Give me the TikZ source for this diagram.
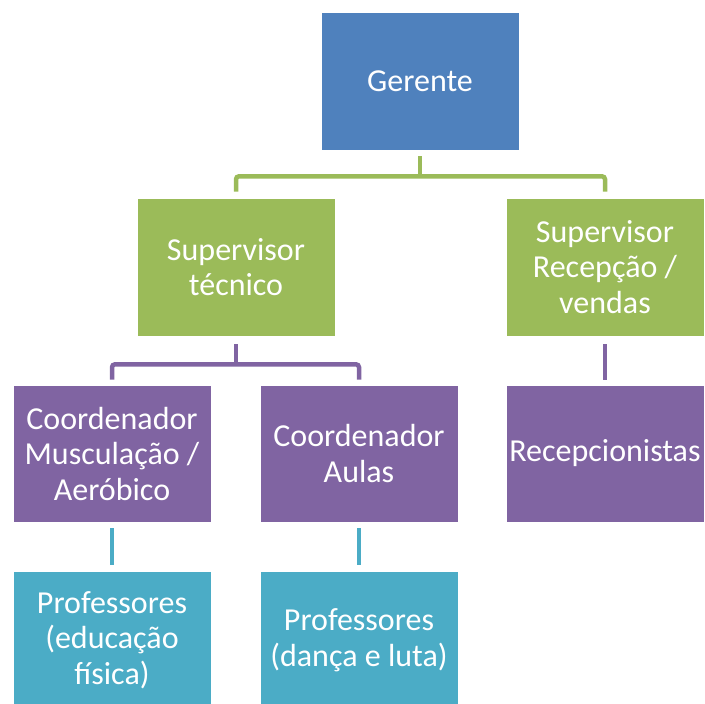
\documentclass[tikz,border=0pt]{standalone}
\usepackage{fontspec}
\setmainfont{Carlito}
\usetikzlibrary{calc}
\definecolor{cblue}{HTML}{4F81BD}
\definecolor{cgreen}{HTML}{9BBB59}
\definecolor{cpurple}{HTML}{8064A2}
\definecolor{ccyan}{HTML}{4BACC6}
\tikzset{
  box/.style={rectangle, draw=white, line width=0.6pt, minimum width=198pt, minimum height=138pt, inner sep=0pt,
    align=center, text=white, font=\fontsize{32}{35.5}\selectfont},
  conn/.style={line width=4.5pt, rounded corners=3pt}
}
\begin{document}
\begin{tikzpicture}[x=1pt,y=-1pt]
\useasboundingbox (0,0) rectangle (705,704);
\node[box, fill=cblue] (g) at (420,81) {Gerente};
\node[box, fill=cgreen] (st) at (236,267) {Supervisor\\técnico};
\node[box, fill=cgreen] (sr) at (605,267) {Supervisor\\Recepção /\\vendas};
\node[box, fill=cpurple, minimum height=137pt] (cm) at (112,453.5) {Coordenador\\Musculação /\\Aeróbico};
\node[box, fill=cpurple, minimum height=137pt] (ca) at (359,453.5) {Coordenador\\Aulas};
\node[box, fill=cpurple, minimum height=137pt] (rc) at (605,453.5) {Recepcionistas};
\node[box, fill=ccyan] (p1) at (112,640) {Professores\\(educação\\física)};
\node[box, fill=ccyan] (p2) at (359,640) {Professores\\(dança e luta)};
% green connectors
\draw[conn, cgreen] ($(g.south)+(0,6)$) -- ($(g.south)+(0,26)$);
\draw[conn, cgreen] ($(st.north)+(0,-6)$) |- ($(g.south)+(0,26)$) -| ($(sr.north)+(0,-6)$);
% purple connectors
\draw[conn, cpurple] ($(st.south)+(0,8)$) -- ($(st.south)+(0,28)$);
\draw[conn, cpurple] ($(cm.north)+(0,-5)$) |- ($(st.south)+(0,28)$) -| ($(ca.north)+(0,-5)$);
\draw[conn, cpurple] ($(sr.south)+(0,8)$) -- ($(rc.north)+(0,-5)$);
% cyan connectors
\draw[conn, ccyan] ($(cm.south)+(0,6)$) -- ($(p1.north)+(0,-6)$);
\draw[conn, ccyan] ($(ca.south)+(0,6)$) -- ($(p2.north)+(0,-6)$);
\end{tikzpicture}
\end{document}
